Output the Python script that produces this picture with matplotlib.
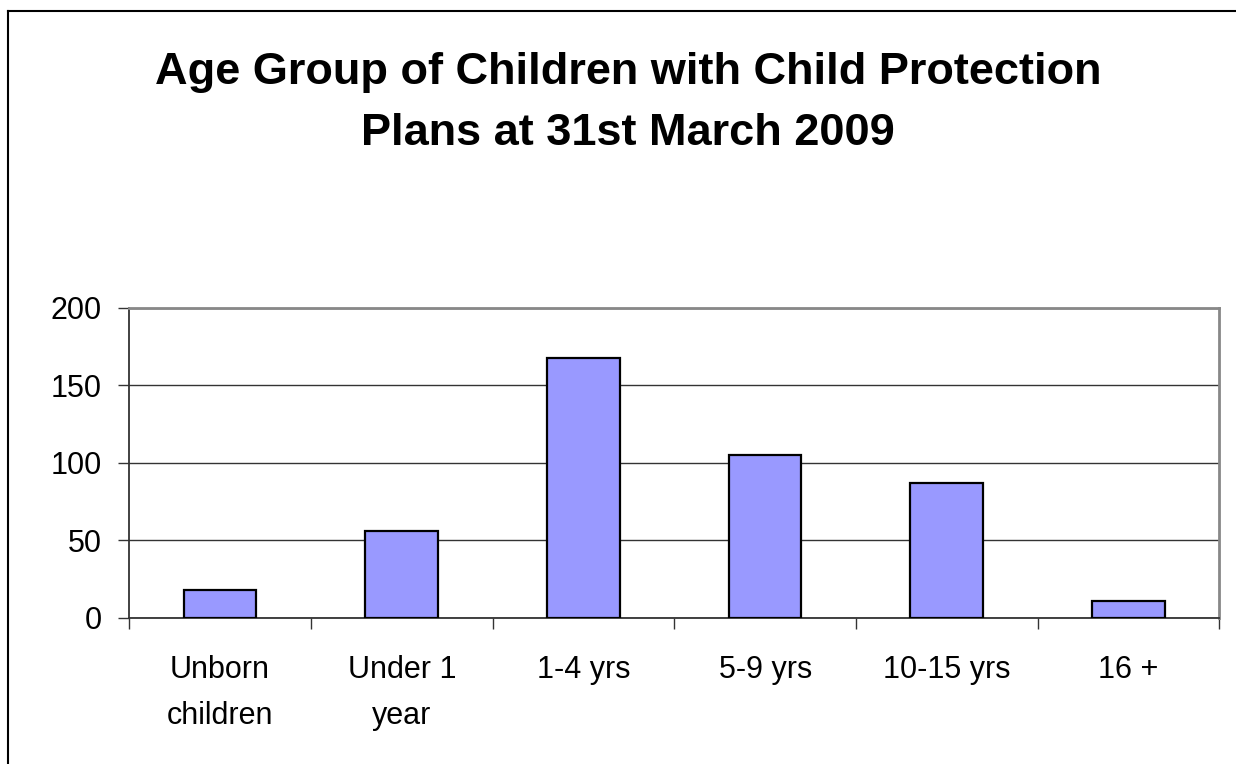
import matplotlib.pyplot as plt
import numpy as np
from matplotlib.lines import Line2D

plt.rcParams['font.family'] = ['Liberation Sans', 'DejaVu Sans']

# data
groups = ["Unborn\nchildren", "Under 1\nyear", "1-4 yrs", "5-9 yrs", "10-15 yrs", "16 +"]
counts = [18, 56, 168, 105, 87, 11]
y_ticks = [0, 50, 100, 150, 200]

fig = plt.figure(figsize=(12.36, 7.64), dpi=100)
ax = fig.add_axes([0.1046, 0.1915, 0.8819, 0.4054])

x = np.arange(len(groups))
ax.bar(x, counts, width=0.4, color="#9999FF", edgecolor="black", linewidth=1.6, zorder=3)

ax.set_xlim(-0.5, len(groups) - 0.5)
ax.set_ylim(0, 200)
ax.set_yticks(y_ticks)
ax.yaxis.grid(True, color="#333333", linewidth=1.0, zorder=0)
ax.tick_params(axis="y", direction="out", length=8, width=1.0, color="#333333",
               labelsize=22, pad=12)

# labels at bar centres, tick marks at category boundaries
ax.set_xticks(x)
ax.set_xticklabels(groups, linespacing=1.68)
ax.set_xticks(np.arange(len(groups) + 1) - 0.5, minor=True)
ax.tick_params(axis="x", which="major", length=0, labelsize=22, pad=27)
ax.tick_params(axis="x", which="minor", direction="out", length=8, width=1.0, color="#333333")

for side in ["left", "bottom"]:
    ax.spines[side].set_color("#333333")
    ax.spines[side].set_linewidth(1.3)
for side in ["top", "right"]:
    ax.spines[side].set_color("#888888")
    ax.spines[side].set_linewidth(2.0)

fig.text(0.508, 0.932, "Age Group of Children with Child Protection\nPlans at 31st March 2009",
         ha="center", va="top", fontsize=32.5, fontweight="bold", linespacing=1.62)

# outer chart border (only top and left show in the picture)
fig.add_artist(Line2D([8 / 1236, 8 / 1236], [0, 1 - 11 / 764], transform=fig.transFigure,
                      color="black", linewidth=1.5))
fig.add_artist(Line2D([8 / 1236, 1], [1 - 11 / 764, 1 - 11 / 764], transform=fig.transFigure,
                      color="black", linewidth=1.5))

fig.savefig("out.png", dpi=100, facecolor="white")
